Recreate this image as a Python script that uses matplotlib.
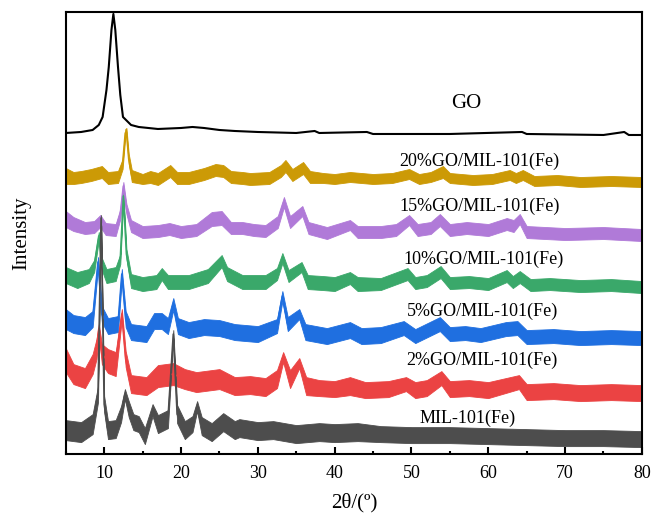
import matplotlib
matplotlib.use('Agg')
import matplotlib.pyplot as plt
import numpy as np

plt.rcParams['font.family'] = ['Liberation Serif', 'DejaVu Serif']

# GO curve (2theta, intensity offset)
go_x = [5, 7, 8.5, 9.3, 9.8, 10.3, 10.6, 10.95, 11.2, 11.45, 11.8, 12.1, 12.45, 13.5, 14.5, 17,
        20, 21.5, 23, 25, 27, 30, 35, 37.4, 38, 44.2, 45, 55, 64.4, 65, 75, 77.7, 78.3, 80]
go_y = [321, 322, 324, 329, 337, 364, 387, 424, 440, 424, 387, 359, 337, 329, 327, 325,
        326, 327, 326, 324, 323, 322, 321, 323, 321, 322, 320, 320, 322, 320, 319, 322, 319, 319]

# noisy patterns: 2theta, middle of the noise band, half width of the band
gold_x = [5, 6, 7, 8.3, 9.7, 10.5, 11.8, 12.4, 12.75, 12.9, 13.2, 13.6, 15, 16, 17, 18.6, 19.5,
          21, 22, 23, 24.5, 25.5, 26.5, 28, 29, 31.5, 33, 33.6, 34.5, 35.9, 36.8, 38.5, 40, 42,
          45, 47.5, 49.7, 51, 52.5, 54.1, 55, 58, 60.5, 62.8, 63.6, 64.5, 66, 69, 72, 76, 80]
gold_m = [278, 276, 277, 279, 282, 276, 277, 290, 321, 322, 295, 278, 275, 277, 275, 283, 276,
          276, 278, 280, 284, 283, 277, 276, 275, 276, 283, 288, 279, 286, 277, 276, 275, 277,
          275, 276, 280, 275, 277, 282, 276, 274, 275, 279, 276, 279, 273, 274, 272, 273, 272]
gold_a = [8, 6, 6, 6, 6, 6, 6, 5, 4, 4, 5, 6, 5, 6, 6, 6, 6,
          6, 6, 6, 6, 6, 6, 6, 6, 6, 6, 6, 6, 6, 6, 5, 5, 5,
          5, 5, 5, 5, 5, 6, 5, 5, 5, 5, 5, 5, 5, 5, 5, 5, 5]

purple_x = [5, 6, 7.5, 8.7, 9.5, 10.2, 11.5, 12.1, 12.5, 12.9, 13.5, 15, 17, 18.5, 20, 22, 24,
            25.3, 26.5, 28, 29.5, 31, 32.6, 33.4, 34.2, 35.8, 36.6, 39, 42, 43, 46, 48, 49.7,
            50.8, 52.5, 53.7, 55, 57.2, 60, 62.4, 63.3, 64.1, 65, 67.5, 70, 75, 80]
purple_m = [235, 230, 226, 227, 233, 225, 224, 240, 268, 245, 228, 222, 223, 225, 222, 224, 235,
            236, 226, 226, 224, 223, 232, 252, 232, 243, 226, 221, 229, 222, 222, 224, 234,
            224, 226, 234, 224, 226, 224, 230, 228, 235, 222, 221, 220, 221, 219]
purple_a = [8, 7, 6, 6, 6, 6, 6, 5, 4, 5, 6, 6, 6, 6, 6, 6, 7,
            7, 6, 6, 6, 6, 6, 5, 6, 5, 6, 6, 5, 6, 6, 6, 5,
            6, 6, 6, 6, 6, 6, 6, 6, 5, 6, 6, 6, 6, 6]

green_x = [5, 6.5, 8, 8.7, 9.3, 9.7, 10.3, 11.5, 12.1, 12.5, 12.9, 13.5, 15, 16.8, 17.5, 18.3,
           21, 23.5, 25.3, 26, 28, 31, 32.5, 33.2, 34, 35.7, 36.5, 38.5, 40, 42, 43, 46, 49.5,
           50.5, 52, 53.8, 55, 57.5, 60, 62.4, 63.2, 64.1, 65.5, 68, 72, 76, 80]
green_m = [179, 174, 178, 188, 218, 190, 178, 180, 195, 258, 200, 173, 170, 172, 180, 172,
           172, 178, 193, 180, 172, 172, 180, 196, 178, 187, 172, 171, 170, 176, 170, 170, 180,
           171, 173, 182, 171, 172, 170, 178, 172, 177, 169, 170, 168, 169, 167]
green_a = [8, 8, 7, 6, 4, 6, 7, 7, 5, 4, 5, 7, 7, 7, 6, 7,
           7, 7, 6, 7, 7, 7, 6, 5, 6, 5, 7, 7, 7, 6, 7, 6, 6,
           6, 6, 6, 6, 6, 6, 6, 6, 6, 6, 6, 6, 6, 6]

blue_x = [5, 6, 7.5, 8.5, 9.2, 9.7, 10.5, 11.8, 12.3, 12.8, 13.5, 15.5, 16.5, 17.5, 18.3, 19,
          19.6, 21, 23, 25, 27, 30, 32.5, 33.2, 33.9, 35.4, 36.2, 39, 42, 43.5, 46, 49, 50.5,
          53.7, 55, 57, 59, 62.3, 63.8, 65, 68.5, 72, 76, 80]
blue_m = [135, 130, 128, 135, 192, 140, 128, 130, 180, 135, 122, 120, 133, 133, 128, 150,
          128, 124, 127, 126, 122, 120, 128, 158, 130, 140, 122, 118, 124, 118, 119, 126, 118,
          130, 120, 121, 119, 125, 126, 117, 118, 116, 117, 116]
blue_a = [10, 9, 9, 8, 5, 8, 8, 8, 5, 8, 8, 8, 8, 8, 8, 6,
          8, 8, 8, 8, 8, 8, 7, 5, 7, 5, 8, 8, 8, 8, 8, 7, 7,
          7, 7, 7, 7, 7, 7, 7, 7, 7, 7, 7]

red_x = [5, 6, 7.5, 8.5, 9.0, 9.3, 9.7, 10.5, 11.5, 12.3, 12.8, 13.5, 15.5, 17, 19, 20.5, 22,
         25, 27, 29, 31, 32.5, 33.3, 34.2, 35.4, 36.3, 38, 40, 42, 44, 47, 49.3, 50.5, 52,
         53.9, 55, 57.5, 60, 64, 65, 68.5, 72, 76, 80]
red_m = [94, 80, 76, 90, 105, 125, 100, 93, 90, 140, 95, 70, 68, 78, 80, 75, 72,
         75, 68, 69, 67, 75, 97, 75, 91, 68, 66, 65, 68, 64, 65, 70, 64, 66,
         76, 65, 66, 64, 72, 62, 63, 61, 62, 61]
red_a = [12, 10, 10, 10, 10, 5, 10, 12, 12, 5, 8, 9, 9, 11, 11, 10, 10,
         10, 9, 9, 9, 9, 5, 9, 5, 9, 8, 8, 9, 8, 8, 7, 8, 8,
         7, 8, 8, 8, 7, 8, 8, 8, 8, 8]

gray_x = [5, 7, 8.5, 9.2, 9.6, 10.0, 10.5, 11.5, 12.2, 12.7, 13.2, 13.8, 14.5, 15.3, 16.3, 17,
          18.3, 19.0, 19.5, 20.5, 21.5, 22.1, 22.7, 24, 25.5, 27, 27.6, 30, 32, 35, 38, 40, 43,
          46, 50, 55, 60, 65, 70, 75, 80]
gray_m = [24, 22, 30, 60, 236, 50, 24, 25, 40, 60, 45, 32, 30, 18, 44, 30,
          35, 120, 40, 24, 30, 48, 28, 22, 32, 24, 26, 23, 24, 20, 22, 21, 22,
          20, 19, 19, 18, 17, 16, 16, 15]
gray_a = [10, 10, 10, 8, 3, 8, 9, 9, 8, 5, 8, 8, 8, 8, 6, 9,
          9, 4, 9, 9, 8, 5, 9, 9, 9, 9, 9, 9, 9, 9, 9, 9, 9,
          8, 8, 8, 8, 8, 8, 8, 8]

labels = ['20%GO/MIL-101(Fe)', '15%GO/MIL-101(Fe)', '10%GO/MIL-101(Fe)',
          '5%GO/MIL-101(Fe)', '2%GO/MIL-101(Fe)', 'MIL-101(Fe)']
label_x = [58.8, 58.9, 59.4, 59.2, 59.2, 57.3]
label_y = [293, 248, 195, 143, 94, 36]

fig = plt.figure(figsize=(6.51, 5.19), dpi=100)
ax = fig.add_axes([0.101, 0.125, 0.885, 0.852])

series = [
    (gold_x, gold_m, gold_a, '#cc9a06'),
    (purple_x, purple_m, purple_a, '#b07ad8'),
    (green_x, green_m, green_a, '#3aa86a'),
    (blue_x, blue_m, blue_a, '#1f6fe0'),
    (red_x, red_m, red_a, '#eb4343'),
    (gray_x, gray_m, gray_a, '#4d4d4d'),
]

for x, m, a, c in series:
    x = np.array(x, dtype=float)
    m = np.array(m, dtype=float)
    a = np.array(a, dtype=float)
    ax.fill_between(x, m - a, m + a, color=c, lw=0.6)
    ax.plot(x, m, color=c, lw=1.2)

ax.plot(go_x, go_y, color='black', lw=1.5)

ax.text(57.1, 350, 'GO', fontsize=15, ha='center', va='center')
for t, lx, ly in zip(labels, label_x, label_y):
    ax.text(lx, ly, t, fontsize=13, ha='center', va='center')

ax.set_xlim(5, 80)
ax.set_ylim(0, 442)
ax.set_xticks(range(10, 81, 10))
ax.set_xticks(range(5, 81, 5), minor=True)
ax.set_yticks([])
ax.tick_params(axis='x', which='major', direction='in', length=5, width=1.5, labelsize=13, pad=8)
ax.tick_params(axis='x', which='minor', direction='in', length=2.5, width=1.5)
for s in ax.spines.values():
    s.set_linewidth(1.5)

ax.set_xlabel('2θ/(º)', fontsize=15, labelpad=8)
ax.set_ylabel('Intensity', fontsize=15, labelpad=25)

fig.savefig('out.png', dpi=100)
